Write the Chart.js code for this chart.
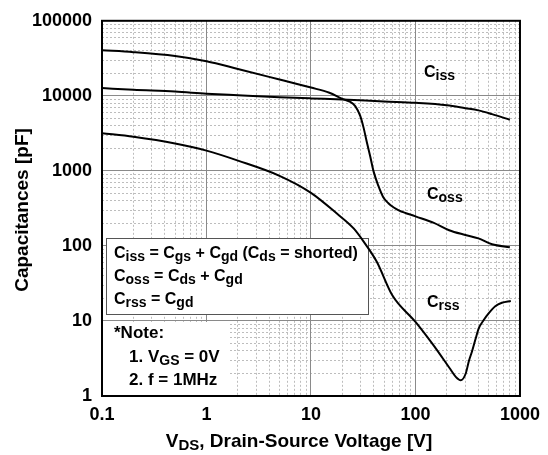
<!DOCTYPE html>
<html>
<head>
<meta charset="utf-8">
<script src="https://cdn.jsdelivr.net/npm/chart.js@4.4.0/dist/chart.umd.min.js"></script>
<style>
  body { margin: 0; background: #fff; }
  #wrap { width: 548px; height: 455px; }
</style>
</head>
<body>
<div id="wrap"><canvas id="mycanvas" width="548" height="455"></canvas></div>
<script>
// values (V, pF)
const cissVolts = [0.1, 0.2, 0.5, 1, 2, 5, 10, 20, 50, 100, 200, 300, 400, 540, 800];
const cissValues = [12700, 12050, 11400, 10700, 10200, 9600, 9250, 8950, 8400, 8070, 7500, 6850, 6400, 5700, 4800];

const cossVolts = [0.1, 0.2, 0.5, 1, 2, 5, 10, 15, 20, 23.8, 26.5, 29.6, 31.8, 34.2, 36.9, 39.7, 44, 49, 55, 62, 70, 100, 150, 210, 300, 400, 540, 800];
const cossValues = [40500, 38200, 33900, 28900, 22800, 16500, 12900, 11000, 9100, 8300, 7300, 5400, 3800, 2430, 1550, 985, 640, 450, 370, 325, 296, 248, 203, 162, 140, 126, 105, 96];

const crssVolts = [0.1, 0.2, 0.5, 1, 2, 5, 10, 17.8, 25.6, 31.8, 42.5, 60, 100, 146, 210, 243, 271, 302, 325, 349, 375, 404, 450, 501, 580, 671, 817];
const crssValues = [3180, 2850, 2320, 1860, 1370, 860, 510, 268, 171, 115, 62, 22, 9.7, 4.9, 2.4, 1.8, 1.62, 1.98, 2.95, 4.0, 5.7, 8.0, 10.3, 12.6, 15.7, 17.5, 18.5];

const xTicks = [0.1, 1, 10, 100, 1000];
const xTickLabels = ['0.1', '1', '10', '100', '1000'];
const yTicks = [1, 10, 100, 1000, 10000, 100000];
const yTickLabels = ['1', '10', '100', '1000', '10000', '100000'];

const FONT = '"Liberation Sans", Arial, sans-serif';

function toPoints(xs, ys) {
  return xs.map((v, i) => ({ x: v, y: ys[i] }));
}

function minorTicks(min, max) {
  var out = [];
  for (let d = min; d < max; d *= 10) {
    for (let k = 2; k <= 9; k++) out.push(+(d * k).toPrecision(3));
  }
  return out;
}

// draws text with subscript parts: [text, isSub]
function drawRich(ctx, parts, x, y, big, small, drop) {
  parts.forEach(p => {
    ctx.font = 'bold ' + (p[1] ? small : big) + 'px ' + FONT;
    ctx.fillText(p[0], x, p[1] ? y + drop : y);
    x += ctx.measureText(p[0]).width;
  });
}
function richWidth(ctx, parts, big, small) {
  var w = 0;
  parts.forEach(p => {
    ctx.font = 'bold ' + (p[1] ? small : big) + 'px ' + FONT;
    w += ctx.measureText(p[0]).width;
  });
  return w;
}

const boxesPlugin = {
  id: 'boxes',
  beforeDatasetsDraw(chart) {
    const ctx = chart.ctx;
    const x = chart.scales.x, y = chart.scales.y;
    ctx.save();
    // note area (white, no frame)
    ctx.fillStyle = '#fff';
    ctx.fillRect(x.left + 1, y.getPixelForValue(10) + 1, 126, y.bottom - y.getPixelForValue(10) - 2);
    // formula box
    ctx.fillRect(106, 238, 263, 76);
    ctx.strokeStyle = '#555';
    ctx.lineWidth = 1;
    ctx.strokeRect(106.5, 238.5, 262, 76);
    ctx.restore();
  },
  afterDatasetsDraw(chart) {
    const ctx = chart.ctx;
    const a = chart.chartArea;
    ctx.save();
    ctx.strokeStyle = '#000';
    ctx.lineWidth = 2;
    ctx.strokeRect(a.left, a.top, a.right - a.left, a.bottom - a.top);

    ctx.fillStyle = '#000';
    ctx.textBaseline = 'alphabetic';
    ctx.textAlign = 'left';
    // curve labels
    drawRich(ctx, [['C'], ['iss', 1]], 424, 77, 16, 14, 3);
    drawRich(ctx, [['C'], ['oss', 1]], 427, 199, 16, 14, 3);
    drawRich(ctx, [['C'], ['rss', 1]], 427, 307, 16, 14, 3);

    // formula box text
    drawRich(ctx, [['C'], ['iss', 1], [' = C'], ['gs', 1], [' + C'], ['gd', 1], [' (C'], ['ds', 1], [' = shorted)']], 114, 258, 16, 14, 3);
    drawRich(ctx, [['C'], ['oss', 1], [' = C'], ['ds', 1], [' + C'], ['gd', 1]], 114, 281, 16, 14, 3);
    drawRich(ctx, [['C'], ['rss', 1], [' = C'], ['gd', 1]], 114, 304, 16, 14, 3);

    // note
    drawRich(ctx, [['*Note:']], 114, 338, 17, 14, 3);
    drawRich(ctx, [['1. V'], ['GS', 1], [' = 0V']], 129, 362, 17, 14, 3);
    drawRich(ctx, [['2. f = 1MHz']], 129, 385, 17, 14, 3);

    // axis titles
    const xt = [['V'], ['DS', 1], [', Drain-Source Voltage [V]']];
    const w = richWidth(ctx, xt, 19, 15);
    drawRich(ctx, xt, 299 - w / 2, 447, 19, 15, 3);

    ctx.translate(28, 210);
    ctx.rotate(-Math.PI / 2);
    ctx.textAlign = 'center';
    ctx.font = 'bold 19px ' + FONT;
    ctx.fillText('Capacitances [pF]', 0, 0);
    ctx.restore();
  }
};

const ctx = document.getElementById('mycanvas');
window.myChart = new Chart(ctx, {
  type: 'line',
  data: {
    datasets: [
      { label: 'Ciss', data: toPoints(cissVolts, cissValues) },
      { label: 'Coss', data: toPoints(cossVolts, cossValues) },
      { label: 'Crss', data: toPoints(crssVolts, crssValues) }
    ]
  },
  options: {
    responsive: false,
    animation: false,
    events: [],
    layout: { padding: { top: 13, right: 23, left: 0, bottom: 0 } },
    elements: {
      line: { borderColor: '#000', borderWidth: 2, cubicInterpolationMode: 'monotone', fill: false },
      point: { radius: 0 }
    },
    plugins: { legend: { display: false }, tooltip: { enabled: false } },
    scales: {
      xMinor: {
        type: 'logarithmic', position: 'bottom', min: 0.1, max: 1000,
        afterBuildTicks: s => { s.ticks = minorTicks(0.1, 1000).map(v => ({ value: v })); },
        afterFit: s => { s.height = 0; },
        ticks: { display: false },
        grid: { color: '#bdbdbd', lineWidth: 1, drawTicks: false },
        border: { display: false, dash: [2, 2] }
      },
      yMinor: {
        type: 'logarithmic', position: 'left', min: 1, max: 100000,
        afterBuildTicks: s => { s.ticks = minorTicks(1, 100000).map(v => ({ value: v })); },
        afterFit: s => { s.width = 0; },
        ticks: { display: false },
        grid: { color: '#bdbdbd', lineWidth: 1, drawTicks: false },
        border: { display: false, dash: [2, 2] }
      },
      x: {
        type: 'logarithmic', position: 'bottom', min: 0.1, max: 1000,
        afterBuildTicks: s => { s.ticks = xTicks.map(v => ({ value: v })); },
        afterFit: s => { s.height = 59; },
        grid: { color: '#8a8a8a', lineWidth: 1, drawTicks: false },
        border: { display: false },
        ticks: {
          autoSkip: false, maxRotation: 0, padding: 8, color: '#000',
          font: { family: FONT, size: 18, weight: 'bold' },
          callback: (v, i) => xTickLabels[i]
        }
      },
      y: {
        type: 'logarithmic', position: 'left', min: 1, max: 100000,
        afterBuildTicks: s => { s.ticks = yTicks.map(v => ({ value: v })); },
        afterFit: s => { s.width = 102; },
        grid: { color: '#8a8a8a', lineWidth: 1, drawTicks: false },
        border: { display: false },
        ticks: {
          autoSkip: false, padding: 10, color: '#000',
          font: { family: FONT, size: 18, weight: 'bold' },
          callback: (v, i) => yTickLabels[i]
        }
      }
    }
  },
  plugins: [boxesPlugin]
});
</script>
</body>
</html>
